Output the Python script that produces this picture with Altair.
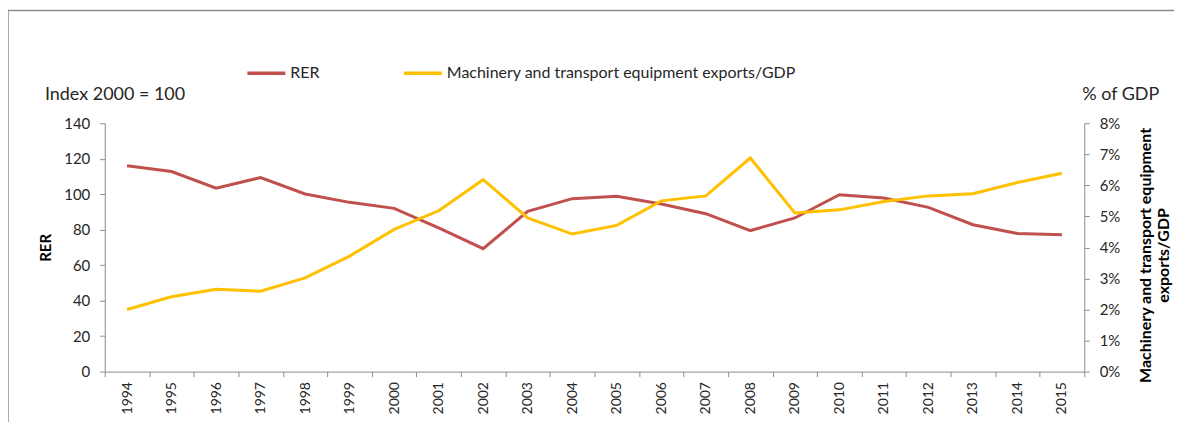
import altair as alt
import pandas as pd

years = [str(y) for y in range(1994, 2016)]
rer = [116.0, 112.8, 103.4, 109.4, 100.1, 95.4, 92.0, 81.0, 69.3, 90.3, 97.5,
       98.8, 94.5, 89.0, 79.5, 86.6, 99.7, 97.8, 92.6, 82.8, 77.8, 77.2]
mte = [0.0200, 0.0241, 0.0265, 0.0259, 0.0302, 0.0372, 0.0458, 0.0518, 0.0618,
       0.0495, 0.0443, 0.0471, 0.0550, 0.0566, 0.0688, 0.0511, 0.0521, 0.0548,
       0.0566, 0.0573, 0.0609, 0.0639]
series = ["RER", "Machinery and transport equipment exports/GDP"]
colors = ["#C0504D", "#FFC000"]

df = pd.DataFrame({"year": years, "RER": rer, "MTE": mte})

FONT = "Lato"
TXT = "#262626"
AX = "#8C8C8C"

color_scale = alt.Scale(domain=series, range=colors)
legend = alt.Legend(
    title=None, orient="none", legendX=141, legendY=-71, direction="horizontal",
    symbolType="stroke", symbolSize=1444, symbolStrokeWidth=3.5,
    labelFont=FONT, labelFontSize=16, labelColor=TXT, columnPadding=77,
    labelOffset=3, labelLimit=0,
)

x_enc = alt.X(
    "year:N", sort=years, bandPosition=0.5,
    scale=alt.Scale(type="band", paddingInner=0, paddingOuter=0),
    axis=alt.Axis(title=None, labelAngle=270, tickBand="extent", tickSize=5,
                  labelPadding=5, labelFont=FONT, labelFontSize=14, labelColor=TXT,
                  domainColor=AX, tickColor=AX, grid=False),
)

base = alt.Chart(df)

rer_line = base.mark_line(strokeWidth=3).encode(
    x=x_enc,
    y=alt.Y("RER:Q", scale=alt.Scale(domain=[0, 140]),
            axis=alt.Axis(values=list(range(0, 141, 20)), title="RER",
                          titleFont=FONT, titleFontSize=15, titleFontWeight="bold",
                          titleColor="#000", titlePadding=10, grid=False,
                          labelFont=FONT, labelFontSize=15, labelColor=TXT,
                          domainColor=AX, tickColor=AX, tickSize=5, labelPadding=10)),
    color=alt.Color("s:N", scale=color_scale, legend=legend),
).transform_calculate(s="'RER'")

mte_line = base.mark_line(strokeWidth=3).encode(
    x=x_enc,
    y=alt.Y("MTE:Q", scale=alt.Scale(domain=[0, 0.08]),
            axis=alt.Axis(orient="right", values=[i / 100 for i in range(0, 9)], format=".0%",
                          title=["Machinery and transport  equipment", "exports/GDP"],
                          titleAngle=270, titleFont=FONT, titleFontSize=16,
                          titleLineHeight=18, titleY=132,
                          titleFontWeight="bold", titleColor="#000", titlePadding=16,
                          grid=False, labelFont=FONT, labelFontSize=15, labelColor=TXT,
                          domainColor=AX, tickColor=AX, tickSize=5, labelPadding=10)),
    color=alt.Color("s:N", scale=color_scale, legend=legend),
).transform_calculate(s="'Machinery and transport equipment exports/GDP'")

one = pd.DataFrame({"t": ["Index 2000 = 100", "% of GDP"], "px": [-60, 980]})

notes = alt.Chart(one).mark_text(
    align="left", baseline="middle", font=FONT, fontSize=18, color=TXT
).encode(
    x=alt.X("px:Q", scale=None),
    y=alt.value(-28),
    text="t:N",
)

frame = alt.Chart(pd.DataFrame({"k": [0]})).mark_rect(
    fill=None, stroke="#8C8C8C", strokeWidth=1.5, clip=False
).encode(
    x=alt.value(-97), x2=alt.value(1200), y=alt.value(-113), y2=alt.value(600)
)

chart = alt.layer(frame, rer_line, mte_line, notes).resolve_scale(
    y="independent"
).properties(
    width=982, height=249,
    autosize=alt.AutoSizeParams(type="none"),
    padding={"left": 97, "top": 115, "right": 90, "bottom": 50},
    background="white",
).configure_view(stroke=None)

chart.save("out.html", embed_options={"renderer": "svg", "actions": False})
